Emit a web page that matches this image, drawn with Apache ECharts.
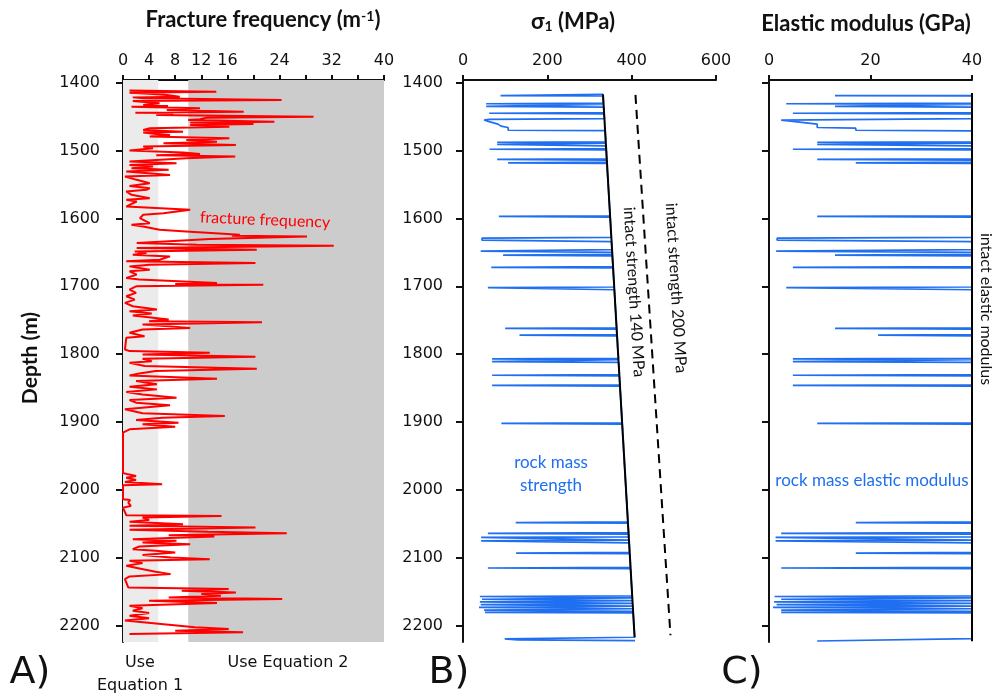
<!DOCTYPE html>
<html><head><meta charset="utf-8">
<script src="https://cdn.jsdelivr.net/npm/echarts@6/dist/echarts.min.js"></script>
<style>html,body{margin:0;padding:0;background:#fff}#c{width:993px;height:699px}</style>
</head><body><div id="c"></div>
<script>
// ---- data ----
const depthTicks = [1400,1500,1600,1700,1800,1900,2000,2100,2200];
const fracTickLabels = [0,4,8,12,16,24,32,40];
const eq1Zone = [0, 5.4];
const eq2Zone = [10, 40];
const fracDepth = [1411.5,1413.2,1414.7,1416.7,1418.1,1420.6,1421.6,1423.0,1425.5,1427.0,1430.4,1432.8,1434.3,1435.3,1437.7,1440.2,1442.6,1444.1,1445.1,1447.5,1450.0,1451.5,1453.9,1454.9,1457.4,1458.8,1460.8,1462.3,1464.7,1467.2,1469.6,1472.1,1473.5,1475.5,1477.0,1479.4,1481.9,1484.3,1486.8,1489.2,1491.7,1494.1,1496.6,1500.0,1502.9,1504.9,1506.9,1508.8,1511.3,1513.7,1516.2,1518.6,1521.1,1523.5,1526.0,1528.4,1530.9,1535.8,1538.2,1543.1,1548.0,1552.0,1555.4,1557.8,1560.3,1565.2,1570.1,1572.5,1575.0,1579.9,1582.4,1587.3,1592.2,1594.6,1599.5,1602.0,1606.9,1609.3,1611.8,1616.7,1619.1,1624.0,1625.5,1626.5,1630.4,1632.4,1636.3,1638.7,1640.2,1643.6,1646.1,1648.5,1651.0,1653.4,1655.9,1660.8,1663.2,1665.7,1668.1,1670.6,1675.5,1677.9,1682.8,1687.7,1690.0,1695.0,1696.5,1697.5,1700.0,1704.8,1709.7,1714.6,1719.5,1724.4,1729.3,1734.2,1736.7,1740.0,1743.0,1748.9,1751.4,1752.8,1756.3,1761.2,1763.6,1768.5,1773.4,1775.9,1793.0,1795.4,1797.9,1800.4,1803.8,1806.7,1810.2,1812.6,1817.5,1821.4,1824.9,1828.3,1831.2,1836.1,1839.6,1844.4,1847.9,1851.8,1855.7,1859.2,1864.0,1867.5,1871.4,1875.3,1881.2,1887.0,1891.0,1893.5,1896.9,1900.8,1903.3,1906.7,1910.6,1915.5,1975.0,1977.0,1979.4,1981.9,1985.3,1988.2,1991.7,1993.1,2013.7,2014.7,2018.6,2023.5,2026.0,2037.2,2038.2,2040.7,2044.1,2047.0,2050.5,2052.9,2055.4,2058.8,2061.7,2063.7,2066.6,2068.6,2072.5,2075.0,2077.4,2079.9,2083.3,2087.2,2089.7,2092.1,2096.0,2099.5,2101.9,2104.4,2107.8,2111.7,2115.6,2120.5,2124.0,2127.4,2131.3,2143.6,2146.0,2148.5,2150.9,2153.4,2155.8,2158.3,2160.7,2163.2,2166.6,2170.5,2174.4,2177.8,2181.3,2185.2,2189.1,2192.5,2202.4,2204.8,2207.3,2209.7,2212.2];
const fracFreq = [1.0,14.3,1.0,4.6,6.7,8.7,1.5,3.1,24.3,1.5,5.6,3.1,6.9,1.3,11.8,6.7,18.5,1.9,7.7,5.1,29.2,12.8,11.8,10.0,23.2,10.3,20.0,10.3,16.3,4.1,3.1,9.2,3.1,5.1,7.2,4.1,16.3,9.7,14.4,6.2,17.3,3.1,4.6,1.0,9.2,11.8,5.1,17.2,9.7,5.1,1.0,8.2,1.0,4.6,1.3,7.0,0.5,7.2,0.3,2.1,4.1,1.0,4.1,3.6,0.5,1.3,4.1,0.5,2.1,1.0,0.5,10.3,6.2,3.1,2.6,3.1,4.1,1.3,3.1,5.6,9.7,17.9,16.7,28.2,13.3,9.2,2.1,11.3,32.3,2.1,20.5,1.8,3.6,1.5,7.2,5.6,0.5,20.3,4.1,1.0,4.1,1.0,2.1,0.5,2.5,14.4,8.0,21.5,2.0,1.0,2.0,0.5,1.8,0.3,1.5,5.2,1.0,4.4,1.5,7.0,4.0,21.3,3.0,10.3,3.0,1.0,3.3,0.5,0.3,1.0,13.3,3.0,20.3,3.0,4.4,1.0,3.3,20.5,5.0,2.5,1.0,14.4,2.0,5.2,1.0,5.2,0.5,3.0,8.2,1.0,2.0,7.2,0.3,3.0,15.6,6.0,2.0,8.5,3.0,8.0,1.0,0.0,0.0,0.8,2.0,0.5,2.0,0.3,6.0,0.0,0.0,1.1,0.8,1.2,0.0,0.5,15.1,3.0,4.0,1.0,9.2,1.0,20.3,1.0,13.0,25.1,7.0,14.0,1.5,8.2,3.0,10.3,2.5,1.5,5.0,8.0,3.0,7.3,13.3,1.0,3.0,0.5,2.5,5.0,7.3,1.0,0.3,0.8,16.2,9.0,17.3,12.0,15.0,7.0,24.4,4.0,14.4,1.0,3.0,1.5,4.0,1.0,4.0,0.3,11.0,16.2,8.0,18.4,1.0];

const stressTicks = [0,200,400,600];
const intact140Depth = [1417, 2217];
const intact140 = [332, 407];
const intact200Depth = [1418, 2214];
const intact200 = [409, 492];
const rmsDepth = [1417,1418.5,1419,1419.5,1430,1431,1432,1434,1435,1436,1444,1445,1446,1453,1454,1455,1457,1459,1461,1464,1466,1470,1470.5,1487,1488,1489,1490,1491,1493,1497,1498,1499,1512,1513,1514,1517,1518,1519,1596,1597,1598,1628,1629,1632,1634,1646,1648,1650,1653,1654,1655,1671,1672,1673,1701,1702,1704,1705,1761,1762,1763,1771,1772,1773,1806,1807,1808,1810,1811,1812,1830,1831,1832,1845,1846,1847,1901,1902,1903,2047,2048,2049,2063,2064,2065,2069,2070,2072,2074,2075,2077,2078,2092,2093,2094,2114,2115,2116,2156,2157,2159,2161,2163,2165,2167,2169,2171,2173,2175,2177,2179,2180.5,2181,2217,2219,2219.5,2221,2222];
const rmsValue = [332,332,89,332,333,55,333,333.5,55,333.5,334.5,62,334.5,335.5,62,50,60,58,83,90,107,107,337,338.5,81,338.7,338.7,81,338.9,339.4,63,339.6,340.8,81,341,341.2,107,341.4,348.8,85,349,351.8,45,45,352.4,353.5,42,353.8,354,95,354.2,355.8,67,356,358.6,59,59,359,364.2,100,364.4,365.1,134,365.3,368.4,69,368.6,368.8,69,369,370.7,69,370.9,372.1,69,372.3,377.3,91,377.5,391,125,391.2,392.5,59,392.7,393.1,43,43,393.5,43,43,394,395.2,126,395.4,397.3,59,397.5,401.2,40,401.4,45,401.8,40,402.1,42,402.5,38,402.9,50,403.3,52,403.5,407,407.2,99,130,408];

const modulusTicks = [0,20,40];
const intactModDepth = [1415, 2223];
const intactMod = [40, 40];
const rmeDepth = [1415,1418.5,1419,1419.5,1430,1431,1432,1434,1435,1436,1444,1445,1446,1453,1455,1457,1459,1461,1466,1467,1470,1471,1487,1488,1489,1490,1491,1493,1497,1498,1499,1512,1513,1514,1517,1518,1519,1596,1597,1598,1628,1629,1632,1634,1646,1648,1650,1653,1654,1655,1671,1672,1673,1701,1702,1704,1705,1761,1762,1763,1771,1772,1773,1806,1807,1808,1810,1811,1812,1830,1831,1832,1845,1846,1847,1901,1902,1903,2047,2048,2049,2063,2064,2065,2069,2070,2072,2074,2075,2077,2078,2092,2093,2094,2114,2115,2116,2156,2157,2159,2161,2163,2165,2167,2169,2171,2173,2175,2177,2179,2180.5,2181,2219,2222.5];
const rmeValue = [40,40,13,40,40,3.4,40,40,13,40,40,4.7,40,40,2.4,4.7,4.7,9.5,9.5,17.1,17.1,40,40,9.5,40,40,9.5,40,40,4.7,40,40,9.5,40,40,17.1,40,40,9.5,40,40,1.6,1.6,40,40,1.4,40,40,13,40,40,4.7,40,40,3.4,3.4,40,40,13,40,40,21.5,40,40,4.7,40,40,4.7,40,40,4.7,40,40,4.7,40,40,9.5,40,40,17.1,40,40,2.4,40,40,1.3,1.3,40,1.3,1.3,40,40,17.1,40,40,2.4,40,40,1.1,40,2.4,40,1,40,1.5,40,0.8,40,2.4,40,2.4,40,40,9.5];

// ---- helpers ----
const zip = (xs, ys) => xs.map((x, i) => [x, ys[i]]);
const AX = '#111';
const tickFont = 'DejaVu Sans';
const calFont = 'Lato, DejaVu Sans, sans-serif';
const plain = v => String(v);

function yAxisCfg(gi, showLabels, margin) {
  return {
    type: 'value', gridIndex: gi, inverse: true, min: 1396, max: 2224,
    position: 'left',
    axisLine: { show: true, onZero: false, lineStyle: { color: AX, width: 2 } },
    axisTick: { show: true, inside: false, length: 7, lineStyle: { color: AX, width: 2 }, customValues: depthTicks },
    axisLabel: { show: showLabels, customValues: depthTicks, formatter: plain, margin: margin, color: '#111', fontFamily: tickFont, fontSize: 16 },
    splitLine: { show: false }
  };
}
function xAxisCfg(gi, max, interval, labels) {
  return {
    type: 'value', gridIndex: gi, position: 'top', min: 0, max: max, interval: interval,
    axisLine: { show: true, onZero: false, lineStyle: { color: AX, width: 2 } },
    axisTick: { show: true, inside: false, length: 5, lineStyle: { color: AX, width: 2 } },
    axisLabel: { show: true, customValues: labels, formatter: plain, margin: 11, color: '#111', fontFamily: tickFont, fontSize: 16 },
    splitLine: { show: false }
  };
}

const chart = echarts.init(document.getElementById('c'), null, { renderer: 'canvas' });
const txt = (x, y, text, extra, rot) => ({
  type: 'text', x: x, y: y, rotation: rot || 0, silent: true, z: 100, zlevel: 0,
  style: Object.assign({ text: text, align: 'center', verticalAlign: 'middle', fill: '#111', fontSize: 16, fontFamily: calFont }, extra)
});

chart.setOption({
  animation: false,
  backgroundColor: '#fff',
  grid: [
    { left: 123, top: 80, width: 261, height: 562 },
    { left: 463, top: 80, width: 253, height: 562 },
    { left: 769, top: 80, width: 203, height: 562 }
  ],
  xAxis: [
    xAxisCfg(0, 40, 4, fracTickLabels),
    xAxisCfg(1, 600, 200, stressTicks),
    xAxisCfg(2, 40, 20, modulusTicks)
  ],
  yAxis: [ yAxisCfg(0, true, 23), yAxisCfg(1, true, 20), yAxisCfg(2, false, 20) ],
  series: [
    {
      type: 'line', xAxisIndex: 0, yAxisIndex: 0, data: zip(fracFreq, fracDepth),
      showSymbol: false, symbol: 'none', lineStyle: { color: '#ff0000', width: 2 }, z: 3,
      markArea: {
        silent: true,
        data: [
          [{ xAxis: eq1Zone[0], itemStyle: { color: '#ebebeb' } }, { xAxis: eq1Zone[1] }],
          [{ xAxis: eq2Zone[0], itemStyle: { color: '#cccccc' } }, { xAxis: eq2Zone[1] }]
        ]
      }
    },
    {
      type: 'line', xAxisIndex: 1, yAxisIndex: 1, data: zip(rmsValue, rmsDepth),
      symbol: 'none', lineStyle: { color: '#1f6ff0', width: 1.7 }, z: 2
    },
    {
      type: 'line', xAxisIndex: 1, yAxisIndex: 1, data: zip(intact140, intact140Depth),
      symbol: 'none', lineStyle: { color: '#000', width: 2 }, z: 4
    },
    {
      type: 'line', xAxisIndex: 1, yAxisIndex: 1, data: zip(intact200, intact200Depth),
      symbol: 'none', lineStyle: { color: '#000', width: 2, type: [9, 6] }, z: 4
    },
    {
      type: 'line', xAxisIndex: 2, yAxisIndex: 2, data: zip(rmeValue, rmeDepth),
      symbol: 'none', lineStyle: { color: '#1f6ff0', width: 1.7 }, z: 2
    },
    {
      type: 'line', xAxisIndex: 2, yAxisIndex: 2, data: zip(intactMod, intactModDepth),
      symbol: 'none', lineStyle: { color: '#000', width: 2 }, z: 4
    }
  ],
  graphic: [
    txt(263, 20, '{b|Fracture frequency (m}{s|-1}{b|)}', {
      rich: {
        b: { fontFamily: calFont, fontWeight: 'bold', fontSize: 22, fill: '#111' },
        s: { fontFamily: calFont, fontWeight: 'bold', fontSize: 14, fill: '#111', verticalAlign: 'top' }
      }
    }),
    txt(573, 22, '{b|σ}{s|1}{b| (MPa)}', {
      rich: {
        b: { fontFamily: calFont, fontWeight: 'bold', fontSize: 22, fill: '#111' },
        s: { fontFamily: calFont, fontWeight: 'bold', fontSize: 14, fill: '#111', verticalAlign: 'bottom' }
      }
    }),
    txt(866, 24, 'Elastic modulus (GPa)', { fontWeight: 'bold', fontSize: 22 }),
    txt(30, 358, 'Depth (m)', { fontWeight: 'bold', fontSize: 21 }, Math.PI / 2),
    txt(265, 220, 'fracture frequency', { fill: '#ff0000', fontSize: 16 }, -0.04),
    txt(634, 292, 'intact strength 140 MPa', { fontSize: 16 }, -Math.PI / 2 + 0.06),
    txt(676, 288, 'intact strength 200 MPa', { fontSize: 16 }, -Math.PI / 2 + 0.06),
    txt(986, 309, 'intact elastic modulus', { fontSize: 16 }, -Math.PI / 2),
    txt(551, 463, 'rock mass', { fill: '#1f6ff0', fontSize: 17 }),
    txt(551, 486, 'strength', { fill: '#1f6ff0', fontSize: 17 }),
    txt(872, 481, 'rock mass elastic modulus', { fill: '#1f6ff0', fontSize: 17 }),
    txt(140, 663, 'Use', { fontFamily: 'DejaVu Sans', fontSize: 16 }),
    txt(140, 686, 'Equation 1', { fontFamily: 'DejaVu Sans', fontSize: 16 }),
    txt(288, 663, 'Use Equation 2', { fontFamily: 'DejaVu Sans', fontSize: 16 }),
    txt(30, 673, 'A)', { fontFamily: 'DejaVu Sans', fontSize: 38 }),
    txt(449, 673, 'B)', { fontFamily: 'DejaVu Sans', fontSize: 38 }),
    txt(742, 673, 'C)', { fontFamily: 'DejaVu Sans', fontSize: 38 })
  ]
});
</script></body></html>
